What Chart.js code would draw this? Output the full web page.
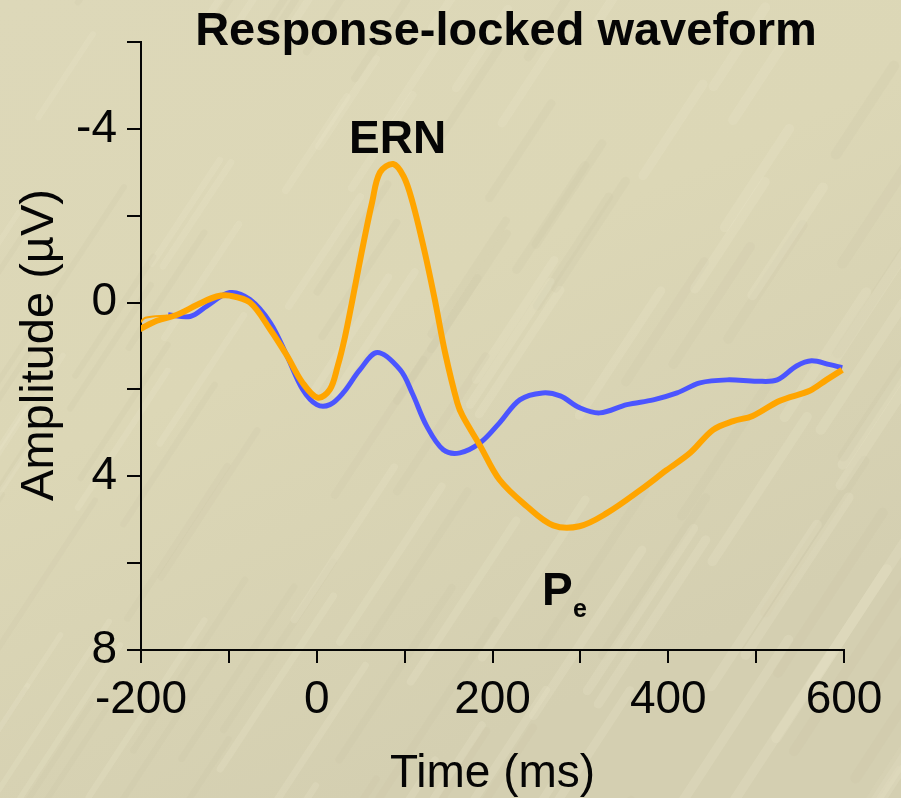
<!DOCTYPE html>
<html>
<head>
<meta charset="utf-8">
<title>Response-locked waveform</title>
<script src="https://cdn.jsdelivr.net/npm/chart.js@4/dist/chart.umd.min.js"></script>
<style>
  html, body { margin: 0; padding: 0; background: #dcd7b7; }
  #wrap { position: relative; width: 901px; height: 798px; }
</style>
</head>
<body>
<div id="wrap"><canvas id="c"></canvas></div>
<script>
// Error-trial waveform (ERN / Pe), time in ms, amplitude in µV
const errorTimes  = [-202, -182, -159, -136, -114, -99, -76, -53, -34, -16, 1, 15, 24, 32, 40, 51, 63, 72, 87, 99, 109, 123, 135, 146, 160, 166, 186, 208, 239, 269, 299, 330, 368, 398, 425, 451, 474, 496, 527, 561, 580, 598];
const errorValues = [0.62, 0.42, 0.28, 0.05, -0.14, -0.16, 0.0, 0.62, 1.22, 1.85, 2.19, 2.0, 1.45, 0.8, 0.0, -1.15, -2.31, -3.0, -3.19, -2.9, -2.31, -1.15, 0.0, 1.15, 2.31, 2.61, 3.30, 4.08, 4.69, 5.13, 5.15, 4.85, 4.32, 3.86, 3.46, 2.93, 2.73, 2.61, 2.26, 2.03, 1.78, 1.55];

// Short thin trace at the start of the error waveform
const errorEdgeTimes  = [-201, -195, -170];
const errorEdgeValues = [0.46, 0.35, 0.30];

// Correct-trial waveform
const correctTimes  = [-169, -144, -125, -99, -76, -53, -34, -16, 0, 15, 30, 49, 69, 95, 109, 125, 144, 163, 186, 208, 231, 257, 277, 299, 322, 353, 383, 410, 436, 467, 501, 524, 546, 563, 584, 598];
const correctValues = [0.28, 0.32, 0.08, -0.23, -0.07, 0.46, 1.22, 2.0, 2.35, 2.35, 2.08, 1.55, 1.15, 1.55, 2.1, 2.84, 3.39, 3.46, 3.23, 2.77, 2.24, 2.08, 2.15, 2.42, 2.54, 2.35, 2.24, 2.08, 1.85, 1.78, 1.81, 1.78, 1.46, 1.34, 1.43, 1.50];

// Axis ticks
const timeTicks = [-200, -100, 0, 100, 200, 300, 400, 500, 600];
const timeLabels = [-200, 0, 200, 400, 600];
const ampTicks = [-6, -4, -2, 0, 2, 4, 6, 8];
const ampLabels = [-4, 0, 4, 8];

const toPoints = (xs, ys) => xs.map((x, i) => ({ x: x, y: ys[i] }));

const FONT = "'Liberation Sans', Arial, Helvetica, sans-serif";
const INK = '#050505';

// Beige slide background with faint diagonal streaks
const backdrop = {
  id: 'backdrop',
  beforeDraw(chart) {
    const ctx = chart.ctx;
    const w = chart.width, h = chart.height;
    ctx.save();
    const g = ctx.createLinearGradient(0, 0, w * 0.4, h);
    g.addColorStop(0, '#ddd8b9');
    g.addColorStop(0.5, '#dcd7b6');
    g.addColorStop(1, '#d4cfb1');
    ctx.fillStyle = g;
    ctx.fillRect(0, 0, w, h);
    ctx.lineCap = 'round';
    for (let i = 0; i < 220; i++) {
      const s = Math.sin(i * 12.9898) * 43758.5453;
      const f = s - Math.floor(s);
      const s2 = Math.sin(i * 78.233) * 12345.678;
      const f2 = s2 - Math.floor(s2);
      const x0 = -300 + f * (w + 500);
      const y0 = f2 * (h + 300);
      const len = 80 + f2 * 180;
      ctx.strokeStyle = i % 2 === 0 ? 'rgba(196,191,160,0.16)' : 'rgba(236,232,206,0.22)';
      ctx.lineWidth = 4 + f * 8;
      ctx.beginPath();
      ctx.moveTo(x0, y0);
      ctx.lineTo(x0 + len * 0.55, y0 - len * 0.84);
      ctx.stroke();
    }
    ctx.restore();
  }
};

// Title, axis titles and component labels
const annotations = {
  id: 'annotations',
  afterDraw(chart) {
    const ctx = chart.ctx;
    const xs = chart.scales.x;
    ctx.save();
    ctx.fillStyle = INK;
    ctx.textAlign = 'center';
    ctx.textBaseline = 'alphabetic';

    ctx.font = 'bold 47px ' + FONT;
    ctx.fillText('Response-locked waveform', 506, 45);

    ctx.font = 'bold 46px ' + FONT;
    ctx.fillText('ERN', xs.getPixelForValue(92), 153);

    ctx.textAlign = 'left';
    ctx.fillText('P', 542, 605);
    ctx.font = 'bold 25px ' + FONT;
    ctx.fillText('e', 573, 617);

    ctx.textAlign = 'center';
    ctx.textBaseline = 'middle';
    ctx.font = '46px ' + FONT;
    ctx.fillText('Time (ms)', (xs.left + xs.right) / 2, 774);

    ctx.translate(40, 345);
    ctx.rotate(-Math.PI / 2);
    ctx.font = '47px ' + FONT;
    ctx.fillText('Amplitude (\u00B5V)', 0, 0);
    ctx.restore();
  }
};

new Chart(document.getElementById('c'), {
  type: 'line',
  data: {
    datasets: [
      {
        label: 'Error',
        data: toPoints(errorTimes, errorValues),
        borderColor: '#ffa500',
        borderWidth: 6,
        pointRadius: 0,
        tension: 0.35,
        fill: false
      },
      {
        label: 'Error edge',
        data: toPoints(errorEdgeTimes, errorEdgeValues),
        borderColor: '#ffa500',
        borderWidth: 2,
        pointRadius: 0,
        tension: 0.3,
        fill: false
      },
      {
        label: 'Correct',
        data: toPoints(correctTimes, correctValues),
        borderColor: '#4b55ff',
        borderWidth: 5,
        pointRadius: 0,
        tension: 0.35,
        fill: false
      }
    ]
  },
  options: {
    responsive: true,
    maintainAspectRatio: false,
    animation: false,
    layout: { padding: { top: 42, right: 57, left: 0, bottom: 0 } },
    plugins: {
      legend: { display: false },
      tooltip: { enabled: false },
      title: { display: false }
    },
    scales: {
      x: {
        type: 'linear',
        min: -200,
        max: 600,
        afterFit(scale) { scale.height = 148; },
        afterBuildTicks(scale) { scale.ticks = timeTicks.map(v => ({ value: v })); },
        ticks: {
          color: INK,
          font: { family: FONT, size: 46 },
          padding: 10,
          maxRotation: 0,
          autoSkip: false,
          callback: v => timeLabels.includes(v) ? String(v) : ''
        },
        grid: {
          drawOnChartArea: false,
          drawTicks: true,
          tickLength: 13,
          color: INK,
          lineWidth: 2
        },
        border: { display: true, color: INK, width: 2 }
      },
      y: {
        type: 'linear',
        reverse: true,
        min: -6,
        max: 8,
        afterFit(scale) { scale.width = 141; },
        afterBuildTicks(scale) { scale.ticks = ampTicks.map(v => ({ value: v })); },
        ticks: {
          color: INK,
          font: { family: FONT, size: 46 },
          padding: 10,
          autoSkip: false,
          callback: v => ampLabels.includes(v) ? String(v) : ''
        },
        grid: {
          drawOnChartArea: false,
          drawTicks: true,
          tickLength: 14,
          color: INK,
          lineWidth: 2
        },
        border: { display: true, color: INK, width: 2 }
      }
    }
  },
  plugins: [backdrop, annotations]
});
</script>
</body>
</html>
